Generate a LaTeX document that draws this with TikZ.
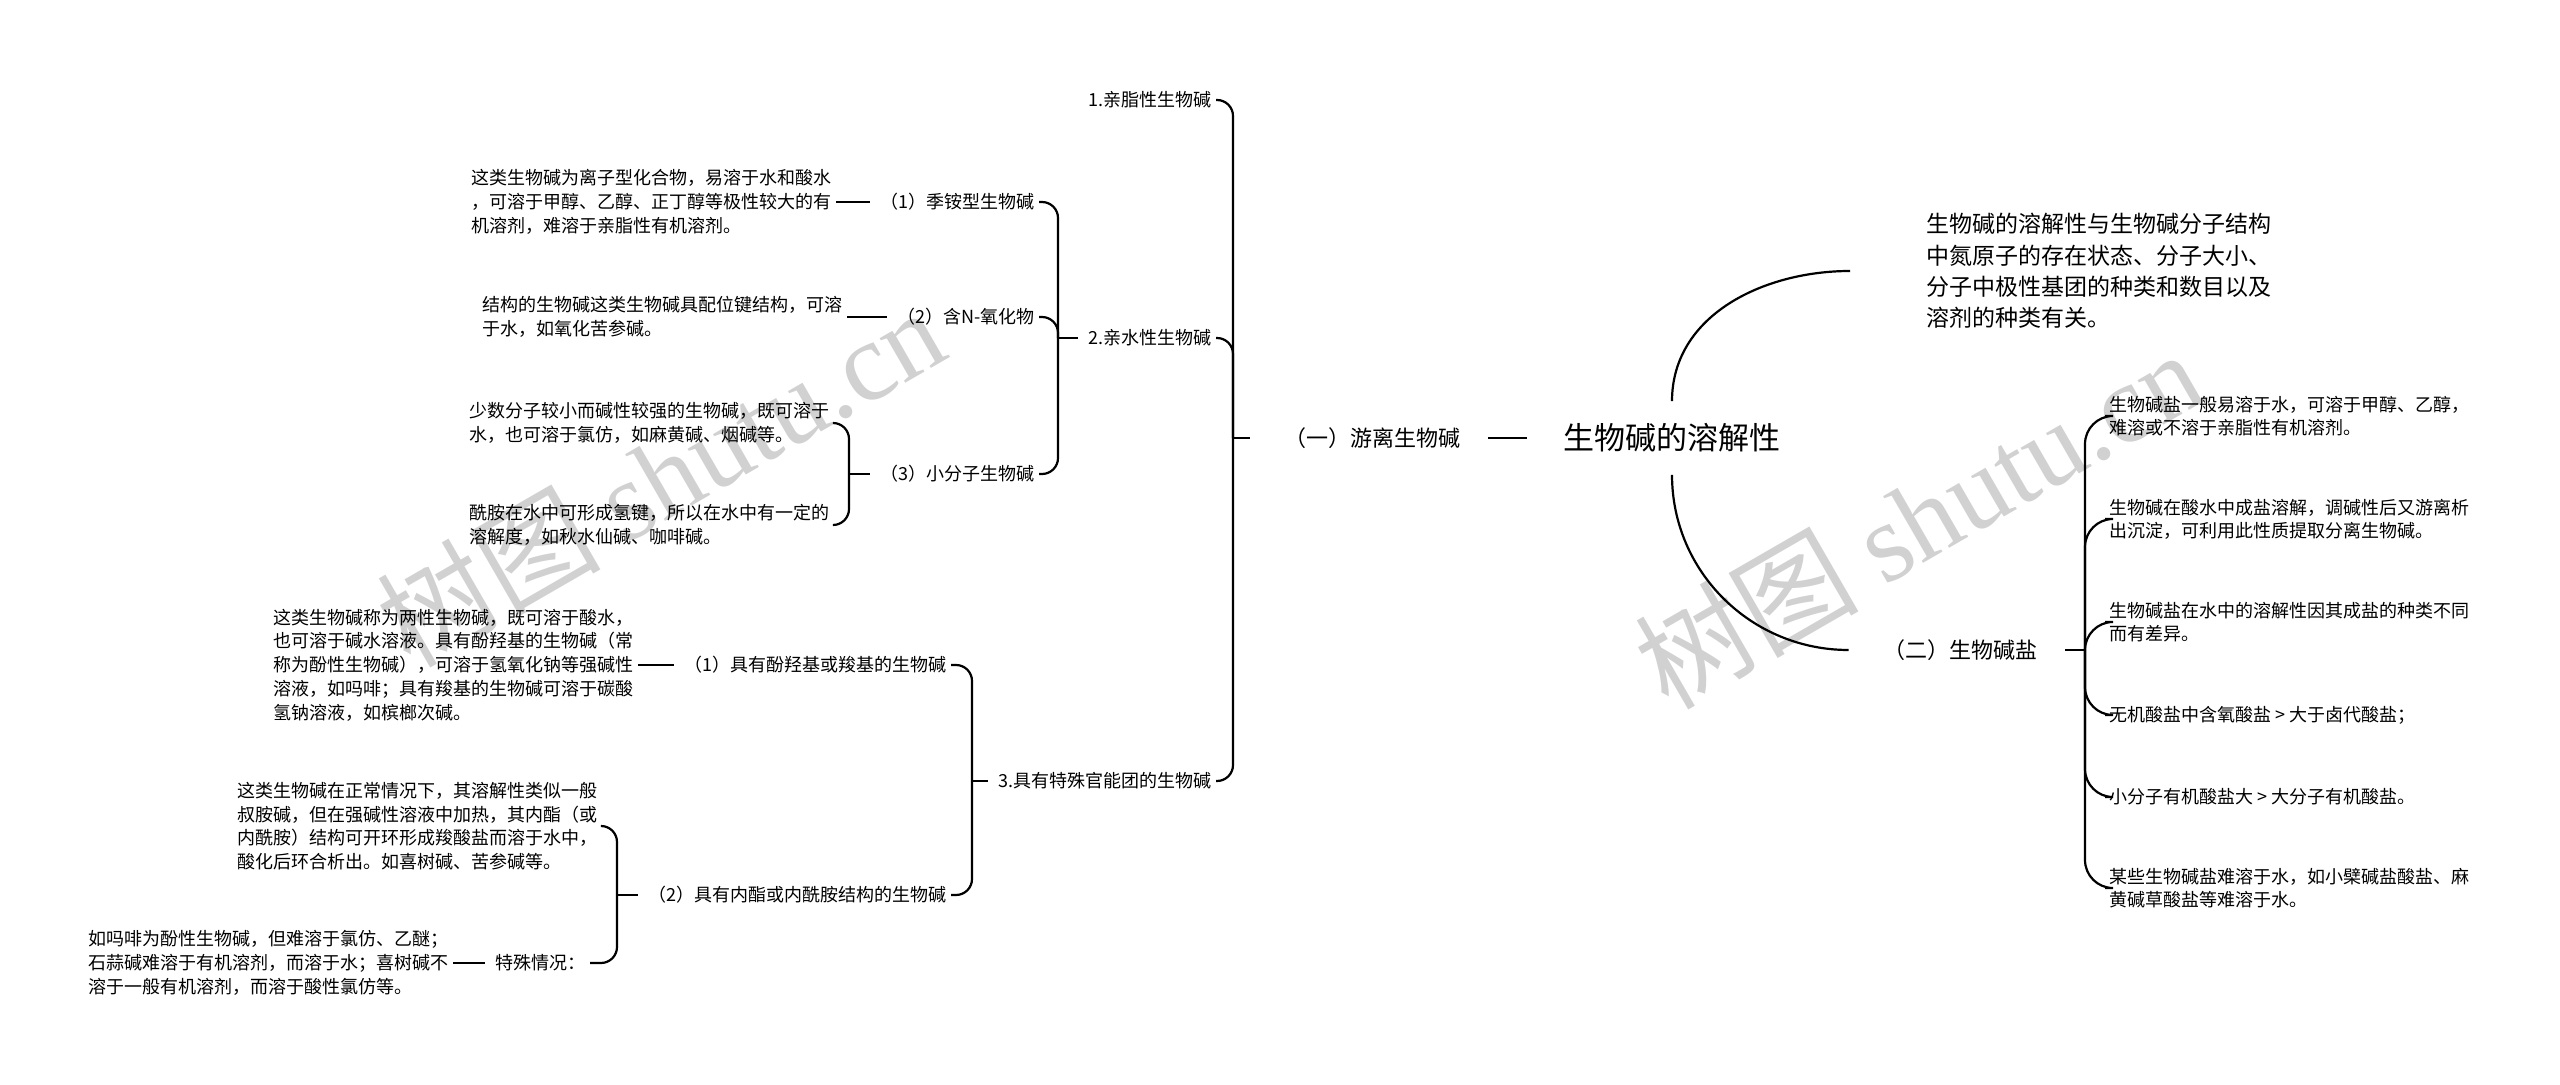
\documentclass[tikz,border=0pt]{standalone}
\usepackage{fontspec}
\setmainfont{Noto Sans CJK SC}
\newfontfamily\wmlatin{Liberation Serif}
\usetikzlibrary{positioning}

\begin{document}
\begin{tikzpicture}[
  x=0.5pt, y=-0.5pt,
  link/.style = {line width=1.1pt, rounded corners=8pt},
  bar/.style = {line width=1.1pt, shorten >=3pt},
  sweep/.style = {line width=1.1pt},
  rootbox/.style = {inner xsep=18pt, inner ysep=11pt, font=\fontsize{15.5}{18}\selectfont},
  topicbox/.style = {inner xsep=14pt, font=\fontsize{11}{13}\selectfont},
  itembox/.style = {anchor=east, inner sep=2pt, font=\fontsize{9}{11}\selectfont},
  leafbox/.style = {anchor=east, align=left, inner sep=2pt, font=\fontsize{9}{11.85}\selectfont},
  saltbox/.style = {anchor=west, align=left, inner sep=2pt, font=\fontsize{9}{11.4}\selectfont},
  notebox/.style = {anchor=west, align=left, inner xsep=38pt, font=\fontsize{11.5}{15.7}\selectfont},
  wmark/.style = {text=black!18, rotate=30, font=\fontsize{56}{56}\selectfont}
]
\useasboundingbox (0,0) rectangle (2560,1085);

% ---- watermarks ----
\node[wmark] (wmleft) at (660,476) {树图 {\wmlatin shutu.cn}};
\node[wmark] (wmright) at (1918,518) {树图 {\wmlatin shutu.cn}};

% ======================================================
% ROOT
% ======================================================

\node[rootbox] (root) at (1672,438) {生物碱的溶解性};
\node[topicbox] (free) at (1372,438) {（一）游离生物碱};
\node[topicbox] (salt) at (1960,650) {（二）生物碱盐};
\node[notebox] (note) at (1850,271) {生物碱的溶解性与生物碱分子结构\\中氮原子的存在状态、分子大小、\\分子中极性基团的种类和数目以及\\溶剂的种类有关。};

\draw[sweep] (free.east) -- (root.west);
\draw[sweep] (root.north) to[out=90, in=180] (note.west);
\draw[sweep] (root.south) to[out=-90, in=180] ([xshift=-3pt]salt.west);

% ======================================================
% LEFT: FREE BASES
% ======================================================

\node[itembox] (lipo) at (1216,100) {1.亲脂性生物碱};
\node[itembox] (hydro) at (1216,338) {2.亲水性生物碱};
\node[itembox] (func) at (1216,781) {3.具有特殊官能团的生物碱};

\coordinate (bfree) at (1233,438);
\draw[bar] (bfree) -- (free.west);
\draw[link] (bfree) |- (lipo.east);
\draw[link] (bfree) |- (hydro.east);
\draw[link] (bfree) |- (func.east);

% ---- hydrophilic ----
\node[itembox] (quat) at (1039,202) {（1）季铵型生物碱};
\node[itembox] (nox) at (1039,317) {（2）含N-氧化物};
\node[itembox] (small) at (1039,474) {（3）小分子生物碱};

\coordinate (bhydro) at (1058,338);
\draw[bar] (bhydro) -- (hydro.west);
\draw[link] (bhydro) |- (quat.east);
\draw[link] (bhydro) |- (nox.east);
\draw[link] (bhydro) |- (small.east);

\node[leafbox] (quatleaf) at (836,202) {这类生物碱为离子型化合物，易溶于水和酸水\\，可溶于甲醇、乙醇、正丁醇等极性较大的有\\机溶剂，难溶于亲脂性有机溶剂。};
\draw[bar] (quatleaf.east) -- (quat.west);

\node[leafbox] (noxleaf) at (847,317) {结构的生物碱这类生物碱具配位键结构，可溶\\于水，如氧化苦参碱。};
\draw[bar] (noxleaf.east) -- (nox.west);

\node[leafbox] (smallA) at (834,423) {少数分子较小而碱性较强的生物碱，既可溶于\\水，也可溶于氯仿，如麻黄碱、烟碱等。};
\node[leafbox] (smallB) at (834,525) {酰胺在水中可形成氢键，所以在水中有一定的\\溶解度，如秋水仙碱、咖啡碱。};

\coordinate (bsmall) at (849,474);
\draw[bar] (bsmall) -- (small.west);
\draw[link] (bsmall) |- (smallA.east);
\draw[link] (bsmall) |- (smallB.east);

% ---- functional groups ----
\node[itembox] (phen) at (951,665) {（1）具有酚羟基或羧基的生物碱};
\node[itembox] (lact) at (951,895) {（2）具有内酯或内酰胺结构的生物碱};

\coordinate (bfunc) at (972,781);
\draw[bar] (bfunc) -- (func.west);
\draw[link] (bfunc) |- (phen.east);
\draw[link] (bfunc) |- (lact.east);

\node[leafbox] (phenleaf) at (638,665) {这类生物碱称为两性生物碱，既可溶于酸水，\\也可溶于碱水溶液。具有酚羟基的生物碱（常\\称为酚性生物碱），可溶于氢氧化钠等强碱性\\溶液，如吗啡；具有羧基的生物碱可溶于碳酸\\氢钠溶液，如槟榔次碱。};
\draw[bar] (phenleaf.east) -- (phen.west);

\node[leafbox] (lactleaf) at (602,826) {这类生物碱在正常情况下，其溶解性类似一般\\叔胺碱，但在强碱性溶液中加热，其内酯（或\\内酰胺）结构可开环形成羧酸盐而溶于水中，\\酸化后环合析出。如喜树碱、苦参碱等。};
\node[itembox] (spec) at (590,963) {特殊情况：};

\coordinate (blact) at (617,895);
\draw[bar] (blact) -- (lact.west);
\draw[link] (blact) |- (lactleaf.east);
\draw[link] (blact) |- (spec.east);

\node[leafbox] (specleaf) at (453,963) {如吗啡为酚性生物碱，但难溶于氯仿、乙醚；\\石蒜碱难溶于有机溶剂，而溶于水；喜树碱不\\溶于一般有机溶剂，而溶于酸性氯仿等。};
\draw[bar] (specleaf.east) -- (spec.west);

% ======================================================
% RIGHT: SALTS
% ======================================================

\node[saltbox] (saltA) at (2105,416) {生物碱盐一般易溶于水，可溶于甲醇、乙醇，\\难溶或不溶于亲脂性有机溶剂。};
\node[saltbox] (saltB) at (2105,519) {生物碱在酸水中成盐溶解，调碱性后又游离析\\出沉淀，可利用此性质提取分离生物碱。};
\node[saltbox] (saltC) at (2105,622) {生物碱盐在水中的溶解性因其成盐的种类不同\\而有差异。};
\node[saltbox] (saltD) at (2105,715) {无机酸盐中含氧酸盐 > 大于卤代酸盐；};
\node[saltbox] (saltE) at (2105,797) {小分子有机酸盐大 > 大分子有机酸盐。};
\node[saltbox] (saltF) at (2105,888) {某些生物碱盐难溶于水，如小檗碱盐酸盐、麻\\黄碱草酸盐等难溶于水。};

\coordinate (bsalt) at (2085,650);
\draw[sweep] (salt.east) -- (bsalt);
\foreach \s in {saltA, saltB, saltC, saltD, saltE, saltF}
  \draw[link, rounded corners=14pt] (bsalt) |- (\s.west);

\end{tikzpicture}
\end{document}
